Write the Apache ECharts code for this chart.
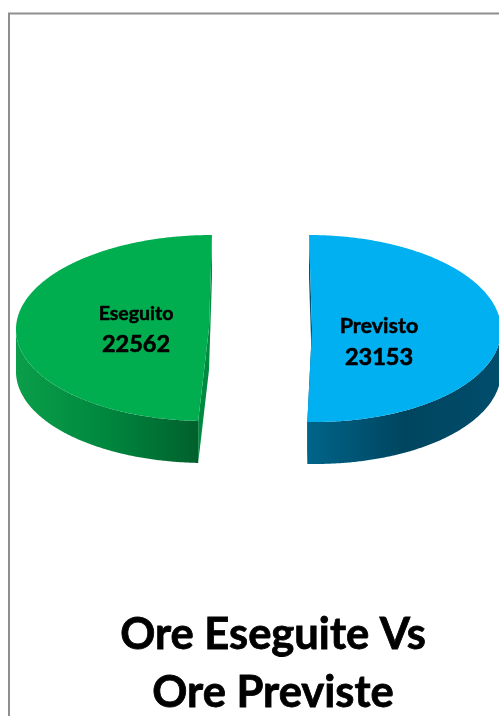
<!DOCTYPE html>
<html>
<head>
<meta charset="utf-8">
<style>html,body{margin:0;padding:0;background:#fff;overflow:hidden}#c{width:499px;height:716px}</style>
<script src="https://cdn.jsdelivr.net/npm/echarts@6/dist/echarts.min.js"></script>
</head>
<body>
<div id="c"></div>
<script>
const categories = ['Previsto', 'Eseguito'];
const hours = [23153, 22562];
const titleText = 'Ore Eseguite Vs\nOre Previste';

// Drawing setup for each slice (the pie is exploded and tilted)
const sliceLayout = [
  {cx: 312, cy: 328.5, rx: 189, ry: 93.5, skew: -3, depth: 42, labelX: 379, nameY: 326, valueY: 357, nameSize: 21.5, valueSize: 23.5,
   top: '#00b0f0', face: '#00506f', wall: [[0, '#00648a'], [0.5, '#00455f'], [1, '#004d6c']]},
  {cx: 209, cy: 328, rx: 193, ry: 93, skew: 3, depth: 42, labelX: 136, nameY: 314, valueY: 344, nameSize: 19.5, valueSize: 23.5,
   top: '#00ae50', face: '#008a40', wall: [[0, '#0a9e4a'], [0.5, '#00873e'], [1, '#00602c']]}
];

const total = hours.reduce((a, b) => a + b, 0);

function renderSlice(params, api) {
  const i = params.dataIndex;
  const g = sliceLayout[i];
  const value = api.value(0);
  const before = hours.slice(0, i).reduce((a, b) => a + b, 0);
  const a0 = before / total * 360;
  const a1 = (before + value) / total * 360;
  const pt = (deg, dy) => {
    const t = deg * Math.PI / 180;
    return [g.cx + g.rx * Math.sin(t) + g.skew * Math.cos(t), g.cy - g.ry * Math.cos(t) + (dy || 0)];
  };
  const arc = (from, to, dy) => {
    const out = [];
    const n = Math.max(2, Math.ceil(Math.abs(to - from) * 2));
    for (let k = 0; k <= n; k++) out.push(pt(from + (to - from) * k / n, dy));
    return out;
  };
  const centre = [g.cx, g.cy];
  const centreLow = [g.cx, g.cy + g.depth];
  const children = [];
  const facePoly = deg => ({
    type: 'polygon',
    shape: {points: [pt(deg), centre, centreLow, pt(deg, g.depth)]},
    style: {fill: g.face}
  });
  children.push(facePoly(a0), facePoly(a1));
  const w0 = Math.max(a0, 90), w1 = Math.min(a1, 270);
  if (w1 > w0) {
    const upper = arc(w0, w1, 0);
    const lower = arc(w1, w0, g.depth);
    children.push({
      type: 'polygon',
      shape: {points: upper.concat(lower)},
      style: {fill: new echarts.graphic.LinearGradient(0, 0, 1, 0,
        g.wall.map(s => ({offset: s[0], color: s[1]})))}
    });
  }
  children.push({
    type: 'polygon',
    shape: {points: [centre].concat(arc(a0, a1, 0))},
    style: {fill: g.top}
  });
  const font = 'bold {s}px Lato, Carlito, sans-serif';
  children.push({
    type: 'text',
    style: {x: g.labelX, y: g.nameY, text: categories[i], fill: '#000', stroke: '#000', lineWidth: 0.5, align: 'center', verticalAlign: 'middle',
      font: font.replace('{s}', g.nameSize)}
  });
  children.push({
    type: 'text',
    style: {x: g.labelX, y: g.valueY, text: String(value), fill: '#000', stroke: '#000', lineWidth: 0.6, align: 'center', verticalAlign: 'middle',
      font: font.replace('{s}', g.valueSize)}
  });
  return {type: 'group', children};
}

const chart = echarts.init(document.getElementById('c'), null, {renderer: 'canvas'});
chart.setOption({
  animation: false,
  backgroundColor: '#fff',
  title: {
    text: titleText,
    left: 268,
    top: 601,
    textAlign: 'center',
    textStyle: {fontFamily: 'Lato, Carlito, sans-serif', fontWeight: 'bold', fontSize: 43.5, lineHeight: 58, color: '#000',
      textBorderColor: '#000', textBorderWidth: 0.8}
  },
  graphic: [{
    type: 'rect', silent: true, z: -1,
    shape: {x: 9, y: 13.5, width: 700, height: 900},
    style: {fill: 'none', stroke: '#8e8e8e', lineWidth: 2}
  }],
  series: [{
    type: 'custom',
    coordinateSystem: 'none',
    silent: true,
    renderItem: renderSlice,
    data: categories.map((n, i) => ({name: n, value: [hours[i]]}))
  }]
});
</script>
</body>
</html>
